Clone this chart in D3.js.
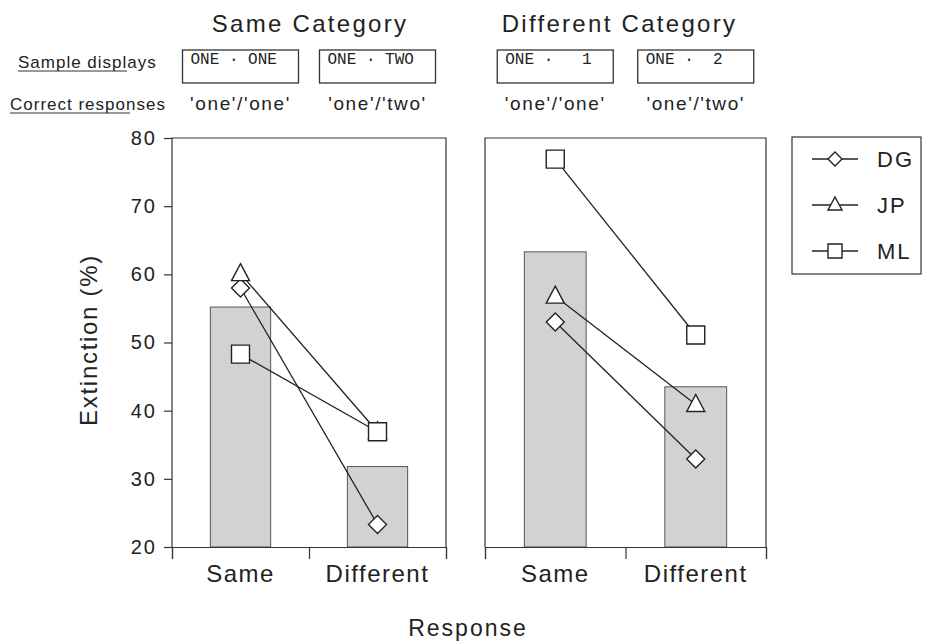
<!DOCTYPE html>
<html>
<head>
<meta charset="utf-8">
<script src="https://cdn.jsdelivr.net/npm/d3@7"></script>
<style>
  body { margin: 0; background: #fff; }
  svg { font-family: "Liberation Sans", Arial, sans-serif; }
</style>
</head>
<body>
<div class="canvas"></div>
<script>
// data
const responses = ["Same", "Different"];
const panels = ["Same Category", "Different Category"];
const sampleDisplays = [["ONE \u00b7 ONE", "ONE \u00b7 TWO"], ["ONE \u00b7   1", "ONE \u00b7  2"]];
const correctResponses = [["'one'/'one'", "'one'/'two'"], ["'one'/'one'", "'one'/'two'"]];
const meanValues = [[55.2, 31.8], [63.3, 43.5]];
const subjects = ["DG", "JP", "ML"];
const dgValues = [[58.0, 23.3], [53.0, 32.9]];
const jpValues = [[60.1, 36.9], [56.8, 40.9]];
const mlValues = [[48.3, 36.9], [76.9, 51.1]];
const yTicks = [20, 30, 40, 50, 60, 70, 80];

const series = [
  { name: "DG", shape: "diamond", values: dgValues },
  { name: "JP", shape: "triangle", values: jpValues },
  { name: "ML", shape: "square", values: mlValues }
];

const svg = d3.select(".canvas").append("svg")
  .attr("width", 926).attr("height", 642);

const y = d3.scaleLinear().domain([20, 80]).range([547, 138]);
const panelX = [[172, 446], [485, 766]];

let markerPath = (shape, s) => {
  let h = s / 2;
  if (shape === "diamond") return `M0,${-h}L${h},0L0,${h}L${-h},0Z`;
  if (shape === "triangle") return `M0,${-h - 1}L${h},${h - 2}L${-h},${h - 2}Z`;
  return `M${-h},${-h}H${h}V${h}H${-h}Z`;
};

panels.forEach((title, p) => {
  let x = d3.scaleBand().domain(responses).range(panelX[p])
    .paddingInner(0.56).paddingOuter(0.28);
  let xEdge = d3.scaleLinear().domain([0, 2]).range(panelX[p]);
  let g = svg.append("g");

  // bars
  g.selectAll("rect.bar").data(meanValues[p]).enter().append("rect")
    .attr("class", "bar")
    .attr("x", (d, i) => x(responses[i]))
    .attr("width", x.bandwidth())
    .attr("y", d => y(d))
    .attr("height", d => y(20) - y(d))
    .attr("fill", "#d2d2d2")
    .attr("stroke", "#555")
    .attr("stroke-width", 1);

  // frame
  let [x0, x1] = panelX[p];
  g.append("path")
    .attr("d", `M${x0},${y(20)}V${y(80)}H${x1}V${y(20)}`)
    .attr("fill", "none").attr("stroke", "#333").attr("stroke-width", 1.2);

  // bottom axis
  let xa = g.append("g").attr("transform", `translate(0,${y(20)})`)
    .call(d3.axisBottom(xEdge).tickValues([0, 1, 2]).tickSize(12).tickFormat(""));
  xa.select(".domain").attr("stroke", "#333").attr("stroke-width", 1.2);
  xa.selectAll(".tick line").attr("stroke", "#333").attr("stroke-width", 1.2);

  g.selectAll("text.xl").data(responses).enter().append("text")
    .attr("class", "xl")
    .attr("x", d => x(d) + x.bandwidth() / 2)
    .attr("y", 582)
    .attr("text-anchor", "middle")
    .attr("font-size", 24)
    .attr("letter-spacing", 1.5)
    .attr("fill", "#222")
    .text(d => d);

  // subject lines
  series.forEach(s => {
    let pts = s.values[p].map((v, i) => [x(responses[i]) + x.bandwidth() / 2, y(v)]);
    g.append("path")
      .attr("d", d3.line()(pts))
      .attr("fill", "none").attr("stroke", "#222").attr("stroke-width", 1.3);
  });
  series.forEach(s => {
    g.selectAll(null).data(s.values[p]).enter().append("path")
      .attr("transform", (v, i) => `translate(${x(responses[i]) + x.bandwidth() / 2},${y(v)})`)
      .attr("d", markerPath(s.shape, 18))
      .attr("fill", "#fff").attr("stroke", "#222").attr("stroke-width", 1.4);
  });

  // header
  svg.append("text")
    .attr("x", (x0 + x1) / 2 - (p === 0 ? -1 : 6))
    .attr("y", 32)
    .attr("text-anchor", "middle")
    .attr("font-size", 24)
    .attr("letter-spacing", 2.3)
    .attr("fill", "#222")
    .text(title);

  responses.forEach((r, i) => {
    let cx = x(r) + x.bandwidth() / 2;
    let bw = 116;
    svg.append("rect")
      .attr("x", cx - bw / 2).attr("y", 50)
      .attr("width", bw).attr("height", 33)
      .attr("fill", "none").attr("stroke", "#333").attr("stroke-width", 1.3);
    svg.append("text")
      .attr("x", cx - bw / 2 + 8).attr("y", 64)
      .attr("font-family", "'Liberation Mono', 'DejaVu Sans Mono', monospace")
      .attr("font-size", 16)
      .attr("fill", "#222")
      .style("white-space", "pre")
      .text(sampleDisplays[p][i]);
    svg.append("text")
      .attr("x", cx).attr("y", 110)
      .attr("text-anchor", "middle")
      .attr("font-size", 19)
      .attr("letter-spacing", 1.6)
      .attr("fill", "#222")
      .text(correctResponses[p][i]);
  });
});

// y axis
let ya = svg.append("g").attr("transform", `translate(${panelX[0][0]},0)`)
  .call(d3.axisLeft(y).tickValues(yTicks).tickSize(8).tickPadding(7));
ya.select(".domain").remove();
ya.selectAll(".tick line").attr("stroke", "#333").attr("stroke-width", 1.2);
ya.selectAll(".tick text").attr("font-size", 20).attr("fill", "#222")
  .attr("letter-spacing", 2)
  .attr("font-family", "'Liberation Sans', Arial, sans-serif");

// row labels
[["Sample displays", 68, 18, 127], ["Correct responses", 110, 10, 130]].forEach(([t, yy, tx, ux]) => {
  svg.append("text").attr("x", tx).attr("y", yy)
    .attr("font-size", 17).attr("letter-spacing", 1)
    .attr("fill", "#222").text(t);
  svg.append("line")
    .attr("x1", tx).attr("x2", ux)
    .attr("y1", yy + 3).attr("y2", yy + 3)
    .attr("stroke", "#333").attr("stroke-width", 1);
});

// axis titles
svg.append("text")
  .attr("transform", "translate(97,340) rotate(-90)")
  .attr("text-anchor", "middle")
  .attr("font-size", 24)
  .attr("letter-spacing", 1.7)
  .attr("fill", "#222")
  .text("Extinction (%)");

svg.append("text")
  .attr("x", 468).attr("y", 636)
  .attr("text-anchor", "middle")
  .attr("font-size", 23)
  .attr("letter-spacing", 2)
  .attr("fill", "#222")
  .text("Response");

// legend
let lg = svg.append("g");
lg.append("rect")
  .attr("x", 792).attr("y", 137).attr("width", 129).attr("height", 137)
  .attr("fill", "#fff").attr("stroke", "#333").attr("stroke-width", 1.2);
let ly = d3.scalePoint().domain(subjects).range([159, 251]);
series.forEach(s => {
  let yy = ly(s.name);
  lg.append("line").attr("x1", 812).attr("x2", 858).attr("y1", yy).attr("y2", yy)
    .attr("stroke", "#222").attr("stroke-width", 1.3);
  lg.append("path").attr("transform", `translate(835,${yy})`)
    .attr("d", markerPath(s.shape, 14))
    .attr("fill", "#fff").attr("stroke", "#222").attr("stroke-width", 1.4);
  lg.append("text").attr("x", 877).attr("y", yy + 8)
    .attr("font-size", 22).attr("letter-spacing", 2).attr("fill", "#222").text(s.name);
});
</script>
</body>
</html>
